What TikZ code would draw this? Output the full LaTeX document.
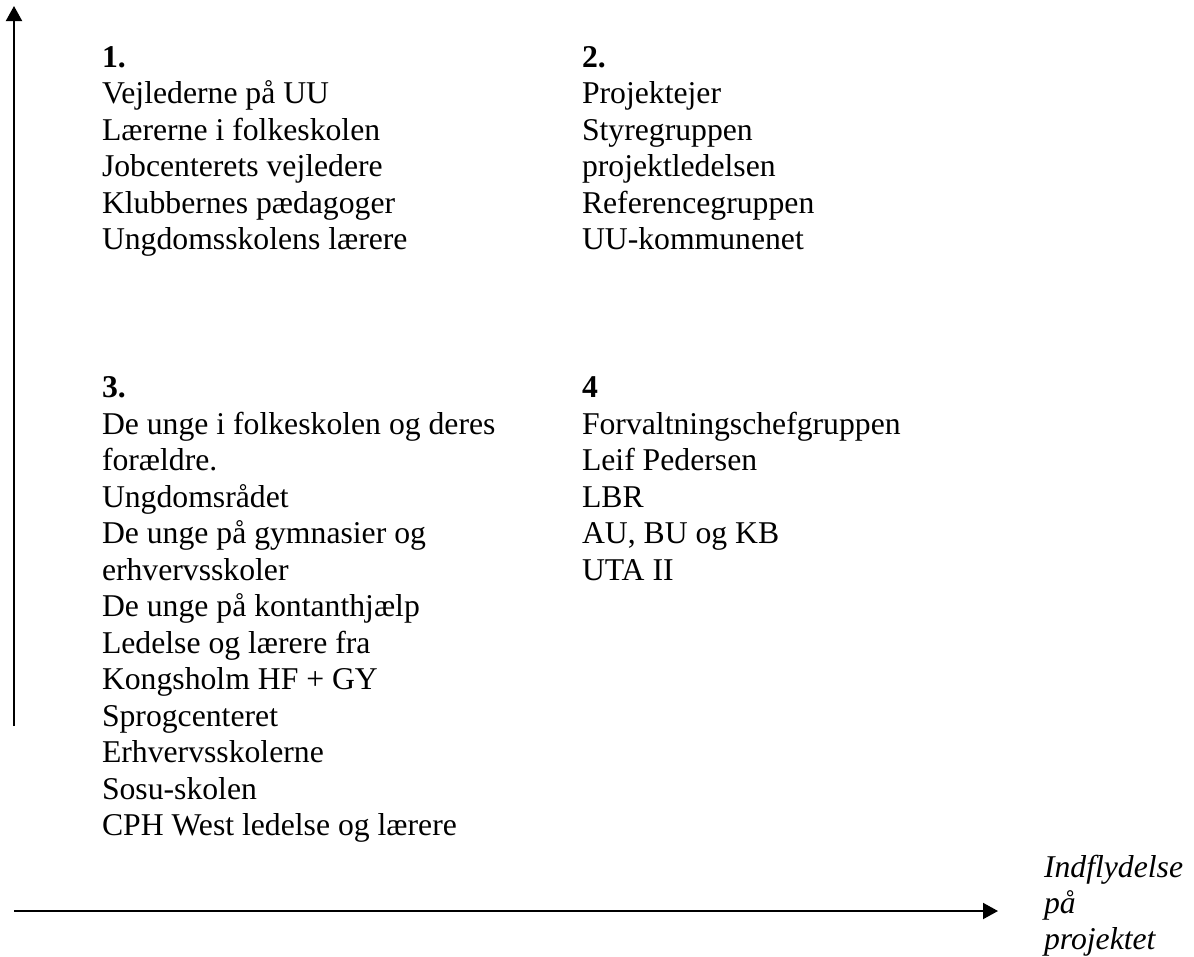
\documentclass[tikz,border=0pt]{standalone}
\usepackage{fontspec}
\setmainfont{Liberation Serif}
\usetikzlibrary{arrows.meta}
\tikzset{
  txt/.style={anchor=base west, inner sep=0pt, outer sep=0pt, font=\fontsize{31.7}{36.5}\selectfont},
  head/.style={txt, font=\fontsize{31.7}{36.5}\selectfont\bfseries},
  lbl/.style={txt, font=\fontsize{31.7}{36.5}\selectfont\itshape},
  axis/.style={line width=2pt, -{Triangle[length=15pt,width=16pt]}}
}
\begin{document}
\begin{tikzpicture}[x=1pt,y=-1pt]
\useasboundingbox (0,0) rectangle (1194,956);
% quadrant 1
\node[head] (h1) at (102,67) {1.};
\foreach \t [count=\i] in {Vejlederne på UU, Lærerne i folkeskolen, Jobcenterets vejledere, Klubbernes pædagoger, Ungdomsskolens lærere}
  \node[txt] (a\i) at (102,{67+36.5*\i}) {\t};
% quadrant 2
\node[head] (h2) at (582,67) {2.};
\foreach \t [count=\i] in {Projektejer, Styregruppen, projektledelsen, Referencegruppen, UU-kommunenet}
  \node[txt] (b\i) at (582,{67+36.5*\i}) {\t};
% quadrant 3
\node[head] (h3) at (102,397.5) {3.};
\foreach \t [count=\i] in {De unge i folkeskolen og deres, forældre., Ungdomsrådet, De unge på gymnasier og, erhvervsskoler, De unge på kontanthjælp, Ledelse og lærere fra, Kongsholm HF + GY, Sprogcenteret, Erhvervsskolerne, Sosu-skolen, CPH West ledelse og lærere}
  \node[txt] (c\i) at (102,{397.5+36.5*\i}) {\t};
% quadrant 4
\node[head] (h4) at (582,397.5) {4};
\foreach \t [count=\i] in {Forvaltningschefgruppen, Leif Pedersen, LBR, {AU, BU og KB}, UTA II}
  \node[txt] (d\i) at (582,{397.5+36.5*\i}) {\t};
% axis label
\node[lbl] (l1) at (1044,877) {Indflydelse};
\node[lbl] (l2) at (1044,913.5) {på};
\node[lbl] (l3) at (1044,949) {projektet};
% axes
\coordinate (vb) at (14,726);
\coordinate (vt) at (14,6);
\coordinate (hb) at (14,911);
\coordinate (ht) at (998,911);
\draw[axis] (vb) -- (vt);
\draw[axis] (hb) -- (ht);
\end{tikzpicture}
\end{document}
